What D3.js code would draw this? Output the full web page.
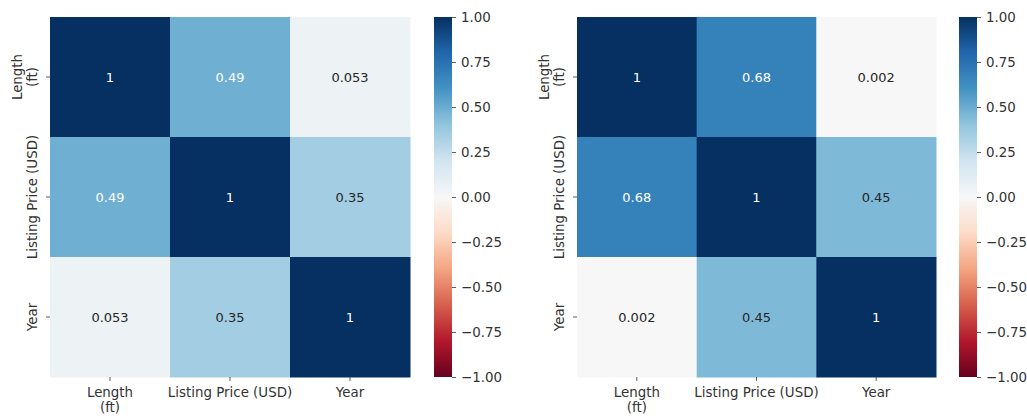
<!DOCTYPE html>
<html>
<head>
<meta charset="utf-8">
<script src="https://cdn.jsdelivr.net/npm/d3@7"></script>
<style>
  body { margin: 0; background: #fff; }
  svg text { font-family: "DejaVu Sans", sans-serif; fill: #333; }
</style>
</head>
<body>
<div id="chart"></div>
<script>
// variable names (rows and columns are the same)
const varLabels = [['Length', '(ft)'], ['Listing Price (USD)'], ['Year']];

// correlation matrices
const leftMatrix = [
  [1, 0.49, 0.053],
  [0.49, 1, 0.35],
  [0.053, 0.35, 1]
];
const rightMatrix = [
  [1, 0.68, 0.002],
  [0.68, 1, 0.45],
  [0.002, 0.45, 1]
];

const colorbarTicks = [1, 0.75, 0.5, 0.25, 0, -0.25, -0.5, -0.75, -1];

// matplotlib RdBu anchors
const rdbu = ['#67001f', '#b2182b', '#d6604d', '#f4a582', '#fddbc7', '#f7f7f7',
              '#d1e5f0', '#92c5de', '#4393c3', '#2166ac', '#053061'];

const width = 1027, height = 418;
const labelSize = '13.4px';

const color = d3.scaleLinear()
  .domain(d3.range(rdbu.length).map(i => -1 + 2 * i / (rdbu.length - 1)))
  .range(rdbu)
  .interpolate(d3.interpolateRgb)
  .clamp(true);

const fmt = d3.format('.2~g');

const svg = d3.select('#chart').append('svg')
  .attr('width', width)
  .attr('height', height);

// gradient for colorbars
const grad = svg.append('defs').append('linearGradient')
  .attr('id', 'cbar')
  .attr('x1', 0).attr('y1', 1).attr('x2', 0).attr('y2', 0);
grad.selectAll('stop')
  .data(color.domain())
  .enter().append('stop')
  .attr('offset', d => (d + 1) / 2)
  .attr('stop-color', d => color(d));

function textColor(v) {
  const c = d3.rgb(color(v));
  const lin = x => { x /= 255; return x <= 0.03928 ? x / 12.92 : Math.pow((x + 0.055) / 1.055, 2.4); };
  const lum = 0.2126 * lin(c.r) + 0.7152 * lin(c.g) + 0.0722 * lin(c.b);
  return lum > 0.408 ? '#262626' : '#ffffff';
}

function drawHeatmap(matrix, box) {
  const g = svg.append('g');
  const idx = d3.range(varLabels.length);

  const x = d3.scaleBand().domain(idx).range([box.x0, box.x1]);
  const y = d3.scaleBand().domain(idx).range([box.y0, box.y1]);

  const cells = [];
  matrix.forEach((row, i) => row.forEach((v, j) => cells.push({ i, j, v })));

  g.selectAll('rect.cell')
    .data(cells)
    .enter().append('rect')
    .attr('class', 'cell')
    .attr('x', d => x(d.j))
    .attr('y', d => y(d.i))
    .attr('width', x.bandwidth() + 0.5)
    .attr('height', y.bandwidth() + 0.5)
    .attr('fill', d => color(d.v));

  g.selectAll('text.annot')
    .data(cells)
    .enter().append('text')
    .attr('class', 'annot')
    .attr('x', d => x(d.j) + x.bandwidth() / 2)
    .attr('y', d => y(d.i) + y.bandwidth() / 2)
    .attr('text-anchor', 'middle')
    .attr('dominant-baseline', 'central')
    .style('font-size', '13px')
    .style('fill', d => textColor(d.v))
    .text(d => fmt(d.v));

  // x tick marks and labels
  const xt = g.selectAll('g.xtick')
    .data(idx)
    .enter().append('g')
    .attr('transform', d => `translate(${x(d) + x.bandwidth() / 2},${box.y1})`);
  xt.append('line').attr('y2', 4).attr('stroke', '#333').attr('stroke-width', 0.8);
  const xtxt = xt.append('text')
    .attr('text-anchor', 'middle')
    .style('font-size', labelSize);
  xtxt.selectAll('tspan')
    .data(d => varLabels[d])
    .enter().append('tspan')
    .attr('x', 0)
    .attr('y', (d, k) => 20 + k * 15)
    .text(d => d);

  // y tick marks and labels (rotated)
  const yt = g.selectAll('g.ytick')
    .data(idx)
    .enter().append('g')
    .attr('transform', d => `translate(${box.x0},${y(d) + y.bandwidth() / 2})`);
  yt.append('line').attr('x2', -4).attr('stroke', '#333').attr('stroke-width', 0.8);
  const ytxt = yt.append('text')
    .attr('transform', 'translate(-13,0) rotate(-90)')
    .attr('text-anchor', 'middle')
    .style('font-size', labelSize);
  ytxt.selectAll('tspan')
    .data(d => varLabels[d])
    .enter().append('tspan')
    .attr('x', 0)
    .attr('y', (d, k, nodes) => -(nodes.length - 1 - k) * 15)
    .text(d => d);

  // colorbar
  const cb = svg.append('g');
  const cy = d3.scaleLinear().domain([-1, 1]).range([box.y1, box.y0]);
  cb.append('rect')
    .attr('x', box.cx)
    .attr('y', cy(1))
    .attr('width', box.cw)
    .attr('height', cy(-1) - cy(1))
    .attr('fill', 'url(#cbar)');
  const axis = d3.axisRight(cy)
    .tickValues(colorbarTicks)
    .tickFormat(d3.format('.2f'))
    .tickSize(4)
    .tickPadding(5);
  const ax = cb.append('g')
    .attr('transform', `translate(${box.cx + box.cw},0)`)
    .call(axis);
  ax.select('.domain').remove();
  ax.selectAll('line').attr('stroke', '#333').attr('stroke-width', 0.8);
  ax.selectAll('text')
    .style('font-size', labelSize)
    .style('font-family', '"DejaVu Sans", sans-serif')
    .attr('fill', '#333')
    .text(d => d3.format('.2f')(d).replace('-', '\u2212'));
}

drawHeatmap(leftMatrix, { x0: 50, x1: 410, y0: 17, y1: 377, cx: 434, cw: 18 });
drawHeatmap(rightMatrix, { x0: 577, x1: 936, y0: 17, y1: 377, cx: 959, cw: 18 });
</script>
</body>
</html>
